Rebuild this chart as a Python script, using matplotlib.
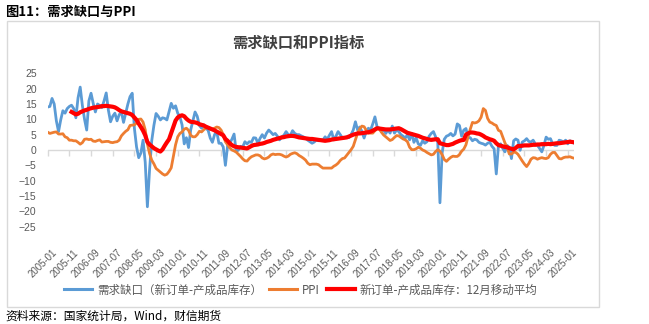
import numpy as np
import pandas as pd
import matplotlib
matplotlib.use('Agg')
import matplotlib.pyplot as plt
from matplotlib.lines import Line2D
from matplotlib.patches import Rectangle
import matplotlib.transforms as mtransforms

plt.rcParams['font.family'] = ['Noto Sans CJK SC', 'DejaVu Sans']

months = pd.period_range('2005-01', '2025-04', freq='M')

# 需求缺口：PMI新订单 - 产成品库存（月度，2005-01 起）
demand_gap = [
    14.0, 14.2, 16.8, 15.0, 9.5, 6.0, 9.8, 12.8, 12.0, 13.5, 14.2, 14.6,      # 2005
    13.5, 10.5, 17.0, 20.5, 14.5, 10.0, 6.5, 16.0, 18.5, 15.2, 12.4, 15.0,    # 2006
    14.5, 13.8, 16.0, 18.6, 13.0, 9.2, 11.0, 12.0, 9.5, 11.5, 12.4, 9.0,      # 2007
    12.0, 15.0, 17.4, 18.5, 7.1, 1.0, -2.5, -1.0, 3.2, -4.0, -18.5, -6.5,     # 2008
    3.0, 8.0, 11.9, 11.0, 9.8, 10.5, 10.3, 9.8, 12.5, 15.2, 13.6, 14.4,       # 2009
    12.0, 10.8, 8.2, 2.0, 4.0, 0.8, 6.6, 9.5, 12.4, 11.0, 8.0, 7.1,           # 2010
    8.2, 7.0, 6.5, 3.9, 2.5, 5.0, 6.0, 2.2, 2.2, 1.0, -5.0, 1.3,              # 2011
    2.2, 3.5, 5.2, -0.5, 0.0, 1.2, 1.0, 2.7, 2.0, 2.7, 2.5, 4.0,              # 2012
    3.9, 2.2, 3.8, 5.0, 3.9, 5.5, 6.5, 5.8, 5.0, 5.4, 4.5, 3.3,               # 2013
    4.3, 4.8, 6.0, 5.0, 4.8, 6.3, 5.4, 5.0, 5.0, 4.6, 4.3, 3.8,               # 2014
    3.2, 2.7, 2.2, 2.6, 3.3, 3.0, 3.3, 3.2, 4.3, 3.5, 4.8, 6.0,               # 2015
    3.3, 4.5, 6.0, 5.0, 3.9, 4.0, 4.3, 4.0, 5.0, 6.5, 9.2, 6.5,               # 2016
    7.5, 6.0, 3.9, 6.0, 7.1, 6.5, 8.5, 10.8, 7.5, 7.1, 6.0, 6.5,              # 2017
    5.4, 6.5, 5.5, 7.8, 5.5, 6.5, 6.0, 5.0, 4.5, 3.9, 5.0, 3.3,               # 2018
    5.4, 2.5, 4.0, 2.0, 1.5, 3.0, 2.2, 2.7, 4.5, 5.4, 6.0, 4.3,               # 2019
    2.5, -17.2, -1.0, 3.5, 4.5, 4.8, 5.4, 4.6, 5.2, 8.5, 8.0, 4.5,            # 2020
    6.5, 7.0, 4.0, 4.0, 3.0, 3.5, 3.3, 2.5, 2.2, 2.0, 1.6, 2.2,               # 2021
    2.5, 1.2, 0.4, -7.8, 1.5, 2.0, 0.5, -0.6, 1.5, 0.8, -2.8, 3.0,            # 2022
    3.6, 3.2, -0.1, 2.6, 3.0, 3.7, 2.8, 2.6, 3.2, 2.0, 1.5, 0.5,              # 2023
    -0.6, 1.5, 4.2, 3.5, 3.7, 2.0, 1.5, 1.5, 3.2, 3.0, 2.6, 3.2,              # 2024
    2.0, 3.0, 2.6, 2.2,                                                       # 2025
]

# PPI 同比（%）
ppi = [
    5.8, 5.4, 5.6, 5.8, 5.9, 5.2, 5.2, 5.3, 4.3, 4.0, 3.2, 3.2,
    3.0, 3.0, 2.5, 1.9, 2.4, 3.5, 3.6, 3.4, 3.5, 2.9, 2.8, 3.1,
    3.3, 2.6, 2.7, 2.8, 2.8, 2.5, 2.4, 2.6, 2.7, 3.2, 4.6, 5.4,
    6.1, 6.6, 8.0, 8.1, 8.2, 8.8, 10.0, 10.1, 9.1, 6.6, 2.0, -1.1,
    -3.3, -4.5, -6.0, -6.6, -7.2, -7.8, -8.2, -7.9, -7.0, -5.8, -2.1, 1.7,
    4.3, 5.4, 5.9, 6.8, 7.1, 6.4, 4.8, 4.3, 4.3, 5.0, 6.1, 5.9,
    6.6, 7.2, 7.3, 6.8, 6.8, 7.1, 7.5, 7.3, 6.5, 5.0, 2.7, 1.7,
    0.7, 0.0, -0.3, -0.7, -1.4, -2.1, -2.9, -3.5, -3.6, -2.8, -2.2, -1.9,
    -1.6, -1.6, -1.9, -2.6, -2.9, -2.7, -2.3, -1.6, -1.3, -1.5, -1.4, -1.4,
    -1.6, -2.0, -2.3, -2.0, -1.4, -1.1, -0.9, -1.2, -1.8, -2.2, -2.7, -3.3,
    -4.3, -4.8, -4.6, -4.6, -4.6, -4.8, -5.4, -5.9, -5.9, -5.9, -5.9, -5.9,
    -5.3, -4.9, -4.3, -3.4, -2.8, -2.6, -1.7, -0.8, 0.1, 1.2, 3.3, 5.5,
    6.9, 7.8, 7.6, 6.4, 5.5, 5.5, 5.5, 6.3, 6.9, 6.9, 5.8, 4.9,
    4.3, 3.7, 3.1, 3.4, 4.1, 4.7, 4.6, 4.1, 3.6, 3.3, 2.7, 0.9,
    0.1, 0.1, 0.4, 0.9, 0.6, 0.0, -0.3, -0.8, -1.2, -1.6, -1.4, -0.5,
    0.1, -0.4, -1.5, -3.1, -3.7, -3.0, -2.4, -2.0, -2.1, -2.1, -1.5, -0.4,
    0.3, 1.7, 4.4, 6.8, 9.0, 8.8, 9.0, 9.5, 10.7, 13.5, 12.9, 10.3,
    9.1, 8.8, 8.3, 8.0, 6.4, 6.1, 4.2, 2.3, 0.9, -1.3, -1.3, -0.7,
    -0.8, -1.4, -2.5, -3.6, -4.6, -5.4, -4.4, -3.0, -2.5, -2.6, -3.0, -2.7,
    -2.5, -2.7, -2.8, -2.5, -1.4, -0.8, -0.8, -1.8, -2.8, -2.9, -2.5, -2.3,
    -2.3, -2.2, -2.5, -2.7,
]

# 12月移动平均，从 2005-12 开始
ma_start = '2005-12'
gap_ma12 = [
    12.4,                                                                     # 2005-12
    12.0, 11.6, 11.8, 12.3, 12.6, 12.9, 13.1, 13.4, 13.6, 13.8, 13.9, 14.0,   # 2006
    14.1, 14.3, 14.3, 14.4, 14.3, 14.2, 14.1, 13.9, 13.5, 13.0, 12.6, 12.4,   # 2007
    12.2, 12.0, 11.8, 11.4, 10.6, 9.8, 8.6, 7.5, 6.3, 4.8, 2.6, 1.8,          # 2008
    1.2, 0.6, 0.2, -0.2, -0.5, 0.2, 1.4, 2.5, 3.5, 5.5, 7.6, 9.6,             # 2009
    10.6, 11.1, 11.3, 11.0, 10.2, 9.6, 9.2, 9.1, 9.0, 8.8, 8.4, 8.2,          # 2010
    8.0, 7.6, 7.3, 7.0, 6.7, 6.4, 6.0, 5.6, 5.2, 4.8, 3.6, 3.0,               # 2011
    2.2, 1.6, 1.2, 1.0, 0.9, 0.8, 0.7, 0.6, 0.5, 0.9, 1.3, 1.6,               # 2012
    1.7, 1.8, 2.0, 2.1, 2.3, 2.6, 2.8, 3.0, 3.3, 3.5, 3.7, 3.9,               # 2013
    4.1, 4.2, 4.4, 4.5, 4.6, 4.6, 4.5, 4.3, 4.1, 4.0, 3.9, 3.8,               # 2014
    3.7, 3.6, 3.6, 3.5, 3.4, 3.3, 3.2, 3.1, 3.0, 3.1, 3.2, 3.4,               # 2015
    3.5, 3.6, 3.7, 3.8, 3.9, 4.0, 4.1, 4.4, 4.7, 5.0, 5.2, 5.4,               # 2016
    5.4, 5.5, 5.6, 5.7, 5.8, 6.0, 6.3, 6.7, 7.1, 7.0, 6.9, 6.8,               # 2017
    6.7, 6.7, 6.7, 6.8, 6.9, 7.0, 7.1, 6.8, 6.4, 6.0, 5.6, 5.4,               # 2018
    5.2, 5.0, 4.8, 4.6, 4.3, 4.0, 3.8, 3.6, 3.4, 3.3, 3.4, 3.5,               # 2019
    3.5, 2.2, 2.0, 1.8, 1.6, 1.6, 1.8, 2.0, 2.4, 2.7, 3.0, 3.2,               # 2020
    3.3, 5.0, 5.4, 5.7, 5.7, 5.6, 5.4, 5.3, 5.0, 4.6, 4.1, 3.8,               # 2021
    3.5, 3.3, 3.0, 2.2, 1.6, 1.4, 1.2, 1.0, 0.9, 0.6, 0.4, 0.2,               # 2022
    0.7, 1.3, 1.3, 1.4, 1.5, 1.5, 1.5, 1.6, 1.7, 1.7, 1.8, 1.8,               # 2023
    1.9, 1.9, 1.9, 2.0, 1.9, 2.0, 2.1, 2.2, 2.2, 2.3, 2.4, 2.5,               # 2024
    2.6, 2.7, 2.6, 2.5,                                                       # 2025
]

labels = ['需求缺口（新订单-产成品库存）', 'PPI', '新订单-产成品库存：12月移动平均']
colors = ['#5B9BD5', '#ED7D31', '#FF0000']

x = np.arange(len(months))
ma = np.full(len(months), np.nan)
i0 = list(months.astype(str)).index(ma_start)
ma[i0:i0 + len(gap_ma12)] = gap_ma12

W, H = 649, 324
fig = plt.figure(figsize=(W / 100, H / 100), dpi=100)

# outer frame
fig.patches.append(Rectangle((6.5 / W, 17 / H), 592.5 / W, 286 / H, transform=fig.transFigure,
                             fill=False, edgecolor='#D9D9D9', lw=1))

ax = fig.add_axes([47.7 / W, 97.3 / H, 526.6 / W, 153.4 / H])
ax.axhline(0, color='#D9D9D9', lw=1, zorder=0.5)
ax.plot(x, demand_gap, color=colors[0], lw=2.0, zorder=2)
ax.plot(x, ppi, color=colors[1], lw=2.0, zorder=3)
ax.plot(x, ma, color=colors[2], lw=3.0, zorder=4)

ax.set_xlim(0, len(months) - 1)
ax.set_ylim(-25, 25)
ax.set_yticks(range(-25, 26, 5))
for s in ax.spines.values():
    s.set_visible(False)
ax.tick_params(axis='y', length=0, pad=8, labelsize=7.5, labelcolor='#595959')

tick_idx = x[::10]
ax.set_xticks(tick_idx)
ax.set_xticklabels([str(p) for p in months[::10]], rotation=45, ha='right', va='top',
                   rotation_mode='anchor', fontsize=6.9, color='#595959')
ax.tick_params(axis='x', length=0, pad=12)
offset = mtransforms.ScaledTranslation(4 / 100, -4 / 100, fig.dpi_scale_trans)
for lab in ax.get_xticklabels():
    lab.set_transform(lab.get_transform() + offset)
for lab in ax.get_yticklabels():
    lab.set_fontfamily(['Liberation Sans', 'DejaVu Sans'])
for lab in ax.get_xticklabels():
    lab.set_fontfamily(['Liberation Sans', 'DejaVu Sans'])

# tick marks on the zero line
sec = ax.secondary_xaxis(0, transform=ax.transData)
sec.set_xticks(tick_idx)
sec.set_xticklabels([])
sec.tick_params(axis='x', direction='out', length=4, width=1, color='#D9D9D9')
sec.spines['bottom'].set_visible(False)

fig.text(5 / W, 1 - 12 / H, '图11：需求缺口与PPI', ha='left', va='center',
         fontsize=9.5, weight='bold', color='black')
fig.text(298 / W, 1 - 42 / H, '需求缺口和PPI指标', ha='center', va='center',
         fontsize=11, weight='bold', color='#404040')
fig.text(5 / W, 1 - 316 / H, '资料来源：国家统计局，Wind，财信期货', ha='left', va='center',
         fontsize=8.5, style='italic', color='black')

handles = [Line2D([], [], color=c, lw=lw) for c, lw in zip(colors, [2.2, 2.2, 3])]
leg = fig.legend(handles, labels, loc='center', bbox_to_anchor=(301 / W, 1 - 290 / H), ncol=3,
                 frameon=False, fontsize=8.3, handlelength=2.4, handletextpad=0.45,
                 columnspacing=0.6, labelcolor='#595959')

fig.savefig('out.png', dpi=100)
